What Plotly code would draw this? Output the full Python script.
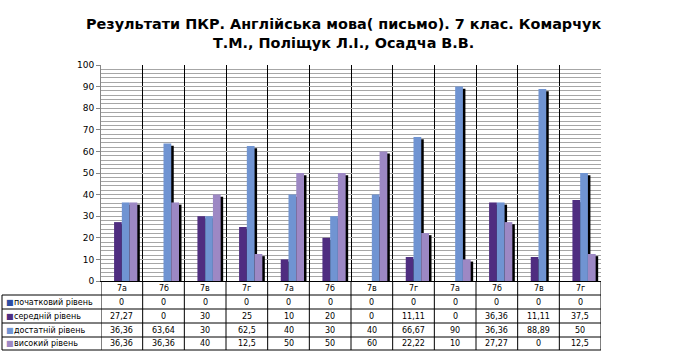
import plotly.graph_objects as go

categories = ["7а", "7б", "7в", "7г", "7а", "7б", "7в", "7г", "7а", "7б", "7в", "7г"]
series_names = ["початковий рівень", "середній рівень", "достатній рівень", "високий рівень"]
pochatkovyi = [0, 0, 0, 0, 0, 0, 0, 0, 0, 0, 0, 0]
serednii = [27.27, 0, 30, 25, 10, 20, 0, 11.11, 0, 36.36, 11.11, 37.5]
dostatnii = [36.36, 63.64, 30, 62.5, 40, 30, 40, 66.67, 90, 36.36, 88.89, 50]
vysokyi = [36.36, 36.36, 40, 12.5, 50, 50, 60, 22.22, 10, 27.27, 0, 12.5]
title_text = "Результати ПКР. Англійська мова( письмо). 7 клас. Комарчук<br>Т.М., Поліщук Л.І., Осадча В.В."

series = [pochatkovyi, serednii, dostatnii, vysokyi]
colors = ["#2d4ea3", "#4f2d80", "#7094d2", "#9d88c4"]

W, H = 681, 353
L, R, T, B = 101, 80, 65, 72
plot_h = H - T - B  # 216
plot_w = W - L - R  # 500


def py(p):
    return (H - B - p) / plot_h


def px(p):
    return (p - L) / plot_w


xs = list(range(len(categories)))
bw = 0.186
offsets = [-0.372, -0.186, 0.0, 0.186]
shadow_dx = 0.06

fig = go.Figure()
# shadows first (drawn beneath the coloured bars, slightly right and lower)
for k, vals in enumerate(series):
    fig.add_trace(go.Bar(
        x=xs, y=vals, base=-1.0, width=bw, offset=offsets[k] + shadow_dx,
        marker=dict(color="#000000", line=dict(width=0)),
        showlegend=False, hoverinfo="skip",
    ))
for k, vals in enumerate(series):
    fig.add_trace(go.Bar(
        x=xs, y=vals, width=bw, offset=offsets[k], name=series_names[k],
        marker=dict(color=colors[k], line=dict(width=0)),
        showlegend=False,
    ))

shapes = []
row_lines_px = [295, 309, 323, 337, 350]
for yp in row_lines_px:
    shapes.append(dict(type="line", xref="paper", yref="paper",
                       x0=px(2), x1=1.0, y0=py(yp), y1=py(yp),
                       line=dict(color="#000000", width=1)))
shapes.append(dict(type="line", xref="paper", yref="paper",
                   x0=px(2), x1=px(2), y0=py(295), y1=py(350),
                   line=dict(color="#000000", width=1)))
for i in range(len(categories) + 1):
    shapes.append(dict(type="line", xref="x", yref="paper",
                       x0=i - 0.5, x1=i - 0.5, y0=py(281), y1=py(350),
                       line=dict(color="#000000", width=1)))

annotations = [dict(text=title_text, xref="paper", yref="paper",
                    x=px(343), y=py(33), xanchor="center", yanchor="middle",
                    showarrow=False,
                    font=dict(family="DejaVu Sans", size=14.4, color="#000000", weight="bold"))]

font_t = dict(family="DejaVu Sans", size=8, color="#000000")
for i, c in enumerate(categories):
    annotations.append(dict(text=c, xref="x", yref="paper", x=i, y=py(288),
                            xanchor="center", yanchor="middle", showarrow=False, font=font_t))

row_centers = [302, 316, 330, 343.5]


def fmt(v):
    s = ("%g" % v).replace(".", ",")
    return s


for k, vals in enumerate(series):
    yc = py(row_centers[k])
    annotations.append(dict(text="■", xref="paper", yref="paper", x=px(4), y=yc,
                            xanchor="left", yanchor="middle", showarrow=False,
                            font=dict(family="DejaVu Sans", size=8, color=colors[k])))
    annotations.append(dict(text=series_names[k], xref="paper", yref="paper", x=px(12), y=yc,
                            xanchor="left", yanchor="middle", showarrow=False, font=font_t))
    for i, v in enumerate(vals):
        annotations.append(dict(text=fmt(v), xref="x", yref="paper", x=i, y=yc,
                                xanchor="center", yanchor="middle", showarrow=False, font=font_t))

fig.update_layout(
    width=W, height=H,
    margin=dict(l=L, r=R, t=T, b=B, pad=0),
    paper_bgcolor="#ffffff", plot_bgcolor="#ffffff",
    barmode="overlay",
    showlegend=False,
    shapes=shapes,
    annotations=annotations,
    xaxis=dict(range=[-0.5, len(categories) - 0.5], tickvals=[i + 0.5 for i in range(len(categories) - 1)],
               showticklabels=False, ticks="", showgrid=True, gridcolor="#000000", gridwidth=1.3,
               zeroline=False, showline=True, linecolor="#000000", linewidth=1, fixedrange=True),
    yaxis=dict(range=[0, 100], dtick=10, tick0=0, showgrid=True, gridcolor="#a6a6a6", gridwidth=1,
               minor=dict(dtick=2, showgrid=True, gridcolor="#a6a6a6", gridwidth=1),
               ticks="outside", ticklen=4, tickcolor="#868686",
               showline=True, linecolor="#868686", linewidth=1, zeroline=False,
               tickfont=dict(family="DejaVu Sans", size=9, color="#000000"), fixedrange=True),
)

fig.write_html("out.html")
